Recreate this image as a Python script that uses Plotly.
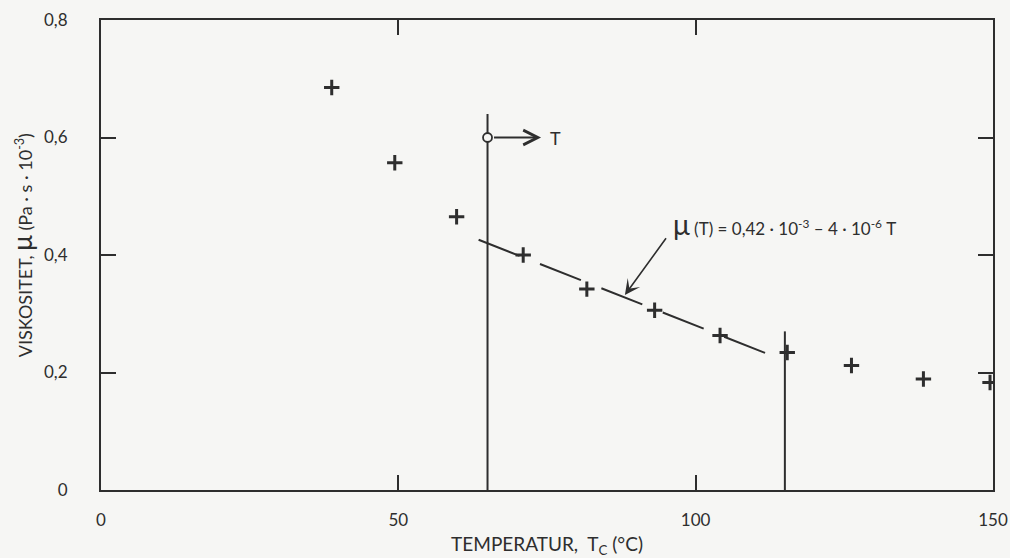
import plotly.graph_objects as go

# Measured viscosity vs. temperature
temps = [38.8, 49.4, 59.8, 71.0, 81.7, 93.1, 104.1, 115.4, 126.2, 138.3, 149.5]
visc = [0.685, 0.557, 0.465, 0.400, 0.342, 0.306, 0.263, 0.234, 0.212, 0.189, 0.183]

# Linear fit segment
fit_T = [63.5, 115.0]
fit_mu = [0.426, 0.220]

# Boundaries of the fitted range
bound_T = [65, 115]
bound_top = [0.64, 0.27]

# Start marker and direction arrow
start_T, start_mu = 65, 0.6
arrow_T = 74

# Formula pointer (tail -> tip)
ptr_tail = (95.2, 0.431)
ptr_tip = (88.1, 0.332)

x_ticks = [0, 50, 100, 150]
x_labels = ["0", "50", "100", "150"]
y_ticks = [0, 0.2, 0.4, 0.6, 0.8]
y_labels = ["0", "0,2", "0,4", "0,6", "0,8"]

INK = "#2e2e2e"
BG = "#f6f6f4"
FONT = "Lato"

fig = go.Figure()

# boundary verticals
vx, vy = [], []
for t, top in zip(bound_T, bound_top):
    vx += [t, t, None]
    vy += [0, top, None]
fig.add_trace(go.Scatter(x=vx, y=vy, mode="lines",
                         line=dict(color=INK, width=2), hoverinfo="skip"))

# fitted dashed line
fig.add_trace(go.Scatter(x=fit_T, y=fit_mu, mode="lines",
                         line=dict(color=INK, width=2, dash="44px,22px"),
                         hoverinfo="skip"))

# data points
fig.add_trace(go.Scatter(x=temps, y=visc, mode="markers",
                         marker=dict(symbol="cross-thin", size=11,
                                     line=dict(color=INK, width=3))))

# open circle at start
fig.add_trace(go.Scatter(x=[start_T], y=[start_mu], mode="markers",
                         marker=dict(symbol="circle", size=9, color=BG,
                                     line=dict(color=INK, width=1.8))))

fig.add_annotation(x=arrow_T, y=start_mu, ax=start_T, ay=start_mu,
                   xref="x", yref="y", axref="x", ayref="y",
                   text="", showarrow=True, arrowhead=5, arrowsize=1.6,
                   arrowwidth=1.8, arrowcolor=INK, startstandoff=5)
fig.add_annotation(x=arrow_T + 1.2, y=start_mu, xref="x", yref="y",
                   text="T", showarrow=False, xanchor="left",
                   font=dict(family=FONT, size=18, color=INK))

# formula with pointer
fig.add_annotation(x=ptr_tip[0], y=ptr_tip[1], ax=ptr_tail[0], ay=ptr_tail[1],
                   xref="x", yref="y", axref="x", ayref="y",
                   text="", showarrow=True, arrowhead=3, arrowsize=1.6,
                   arrowwidth=1.6, arrowcolor=INK)
fig.add_annotation(x=95.8, y=0.452, xref="x", yref="y", xanchor="left",
                   yanchor="middle", showarrow=False,
                   text="<span style='font-size:28px'>μ</span> (T) = 0,42 · 10<sup>-3</sup> – 4 · 10<sup>-6</sup> T",
                   font=dict(family=FONT, size=17, color=INK))

# y-axis title
fig.add_annotation(xref="paper", yref="paper", x=-0.089, y=0.52,
                   xanchor="center", yanchor="middle", textangle=-90,
                   showarrow=False,
                   text="VISKOSITET, <span style='font-size:26px'>μ</span> (Pa · s · 10<sup>-3</sup>)",
                   font=dict(family=FONT, size=18, color=INK))

fig.update_xaxes(range=[0, 150], tickvals=x_ticks, ticktext=x_labels,
                 showgrid=False, zeroline=False, showline=True, linecolor=INK,
                 linewidth=2, mirror="ticks", ticks="inside", ticklen=15,
                 tickwidth=2, tickcolor=INK, ticklabelstandoff=14,
                 automargin=False,
                 tickfont=dict(family=FONT, size=17, color=INK),
                 title=dict(text="TEMPERATUR,  T<sub>C</sub> (°C)", standoff=11,
                            font=dict(family=FONT, size=19, color=INK)))
fig.update_yaxes(range=[0, 0.8], tickvals=y_ticks, ticktext=y_labels,
                 showgrid=False, zeroline=False, showline=True, linecolor=INK,
                 linewidth=2, mirror="ticks", ticks="inside", ticklen=15,
                 tickwidth=2, tickcolor=INK, ticklabelstandoff=28,
                 automargin=False,
                 tickfont=dict(family=FONT, size=17, color=INK))

fig.update_layout(width=1010, height=558, showlegend=False,
                  margin=dict(l=101, r=17, t=20, b=68),
                  paper_bgcolor=BG, plot_bgcolor=BG)

fig.write_html("out.html")
